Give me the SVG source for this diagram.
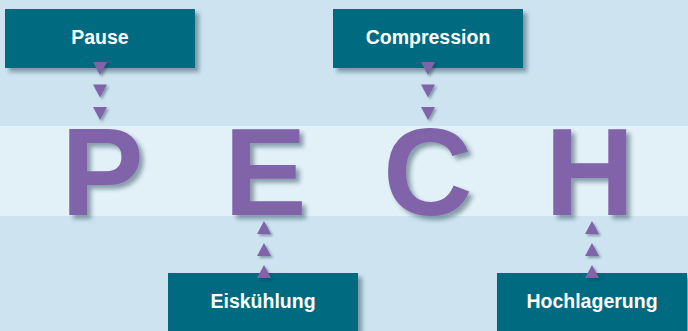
<svg xmlns="http://www.w3.org/2000/svg" width="688" height="331" viewBox="0 0 688 331">
<defs>
<filter id="sh" x="-20%" y="-20%" width="150%" height="160%">
<feGaussianBlur in="SourceAlpha" stdDeviation="2"/>
<feOffset dx="4" dy="4" result="b"/>
<feFlood flood-color="#1a3a4a" flood-opacity="0.45"/>
<feComposite in2="b" operator="in"/>
<feMerge><feMergeNode/><feMergeNode in="SourceGraphic"/></feMerge>
</filter>
<filter id="shs" x="-50%" y="-50%" width="200%" height="200%">
<feGaussianBlur in="SourceAlpha" stdDeviation="1.2"/>
<feOffset dx="2" dy="2" result="b"/>
<feFlood flood-color="#1a3a4a" flood-opacity="0.4"/>
<feComposite in2="b" operator="in"/>
<feMerge><feMergeNode/><feMergeNode in="SourceGraphic"/></feMerge>
</filter>
<polygon id="down" points="-7,0 7,0 0,13"/>
<polygon id="up" points="-7,13 7,13 0,0"/>
</defs>
<style>
.box{fill:#006a80}
.lbl{font-family:"Liberation Sans",Arial,sans-serif;font-weight:bold;font-size:19.5px;fill:#ffffff;text-anchor:middle}
.big{font-family:"Liberation Sans",Arial,sans-serif;font-weight:bold;font-size:124px;fill:#8064a8}
.tri{fill:#8064a8}
</style>
<rect x="0" y="0" width="688" height="331" fill="#cde3f0"/>
<rect x="0" y="126" width="688" height="90" fill="#e2f0f8"/>
<g id="letters" filter="url(#sh)">
<text class="big" x="61" y="215">P</text>
<text class="big" x="224" y="215">E</text>
<text class="big" x="383" y="215">C</text>
<text class="big" x="545" y="215">H</text>
</g>
<g id="node-pause">
<rect class="box" x="5" y="9" width="190" height="59" filter="url(#sh)"/>
<text class="lbl" x="100" y="44">Pause</text>
</g>
<g id="node-compression">
<rect class="box" x="333" y="9" width="190" height="59" filter="url(#sh)"/>
<text class="lbl" x="428" y="44">Compression</text>
</g>
<g id="node-eiskuehlung">
<rect class="box" x="168" y="273" width="190" height="62" filter="url(#sh)"/>
<text class="lbl" x="263" y="308">Eiskühlung</text>
</g>
<g id="node-hochlagerung">
<rect class="box" x="497" y="273" width="190" height="62" filter="url(#sh)"/>
<text class="lbl" x="592" y="308">Hochlagerung</text>
</g>
<g id="connectors" class="tri" filter="url(#shs)">
<use href="#down" x="100" y="62"/>
<use href="#down" x="100" y="84.5"/>
<use href="#down" x="100" y="107"/>
<use href="#down" x="428" y="62"/>
<use href="#down" x="428" y="84.5"/>
<use href="#down" x="428" y="107"/>
<use href="#up" x="264" y="221"/>
<use href="#up" x="264" y="243"/>
<use href="#up" x="264" y="265"/>
<use href="#up" x="592" y="221"/>
<use href="#up" x="592" y="243"/>
<use href="#up" x="592" y="265"/>
</g>
</svg>
